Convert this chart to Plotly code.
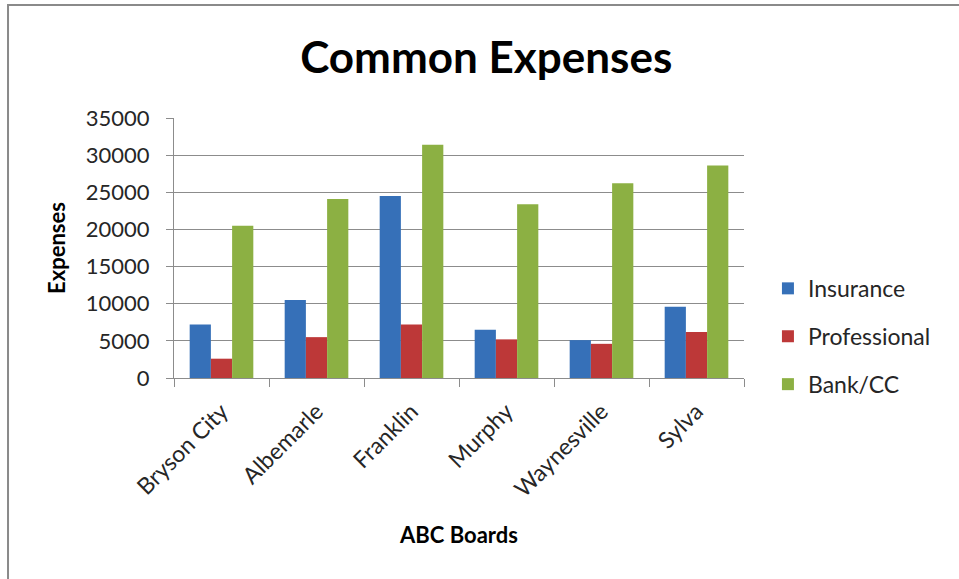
import plotly.graph_objects as go

# Expense data per ABC board
boards = ["Bryson City", "Albemarle", "Franklin", "Murphy", "Waynesville", "Sylva"]
insurance = [7200, 10500, 24500, 6500, 5100, 9600]
professional = [2600, 5500, 7200, 5200, 4600, 6200]
bank_cc = [20500, 24100, 31400, 23400, 26200, 28600]

y_ticks = [0, 5000, 10000, 15000, 20000, 25000, 30000, 35000]

FONT = "Lato, 'Open Sans', sans-serif"
TEXT = "#262626"
GRID = "#8c8c8c"

series = [
    ("Insurance", insurance, "#3670b8"),
    ("Professional", professional, "#bd3838"),
    ("Bank/CC", bank_cc, "#8cb043"),
]

fig = go.Figure()
for name, vals, color in series:
    fig.add_trace(go.Bar(
        x=boards, y=vals, name=name, legendgroup=name,
        marker=dict(color=color, line=dict(width=0)),
    ))

fig.update_layout(
    width=959, height=579,
    margin=dict(l=174, r=215, t=118, b=201),
    paper_bgcolor="white", plot_bgcolor="white",
    barmode="group", bargap=0.33, bargroupgap=0,
    font=dict(family=FONT, color=TEXT, size=21),
    title=dict(
        text="<b>Common Expenses</b>",
        font=dict(family=FONT, size=44, color="black"),
        x=0.507, xref="container", xanchor="center",
        y=0.9, yref="container", yanchor="middle",
    ),
    legend=dict(
        x=1.042, xanchor="left", y=0.16, yanchor="middle",
        font=dict(family=FONT, size=23, color=TEXT),
        tracegroupgap=15, bgcolor="rgba(0,0,0,0)",
    ),
    showlegend=True,
)

fig.update_xaxes(
    type="category",
    tickangle=-45,
    tickson="boundaries",
    ticks="outside", ticklen=8, tickcolor=GRID, tickwidth=1,
    ticklabelstandoff=10,
    showline=True, linecolor=GRID, linewidth=1,
    showgrid=False,
    tickfont=dict(family=FONT, size=23, color=TEXT),
    title=dict(text="<b>ABC Boards</b>", font=dict(family=FONT, size=22, color="black"), standoff=26),
)

fig.update_yaxes(
    range=[0, 35000],
    tickvals=y_ticks,
    ticktext=[str(v) for v in y_ticks],
    ticks="outside", ticklen=7, tickcolor=GRID, tickwidth=1,
    ticklabelstandoff=12,
    showline=True, linecolor=GRID, linewidth=1,
    showgrid=True, gridcolor=GRID, gridwidth=1,
    zeroline=False,
    tickfont=dict(family=FONT, size=22, color=TEXT),
    title=dict(text="<b>Expenses</b>", font=dict(family=FONT, size=22, color="black"), standoff=14),
)

# Chart-area frame
fig.add_shape(
    type="rect", xref="paper", yref="paper",
    x0=-0.2912, x1=1.45, y0=-0.86, y1=1.4346,
    line=dict(color="#8a8a8a", width=2), fillcolor="rgba(0,0,0,0)", layer="below",
)

fig.write_html("out.html")
